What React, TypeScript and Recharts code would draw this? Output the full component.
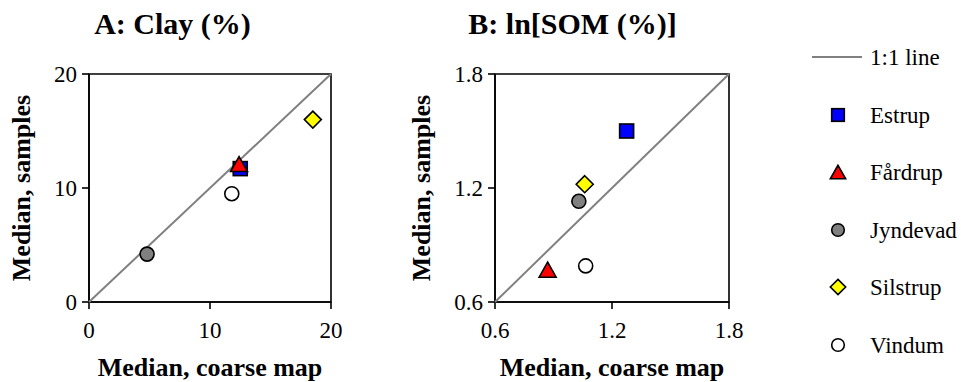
import React from 'react';
import { ScatterChart, Scatter, XAxis, YAxis, ReferenceArea, Legend } from 'recharts';

const FONT = "'Liberation Serif', 'Times New Roman', Times, serif";

// Series (sites)
const seriesNames = ['Estrup', 'Fårdrup', 'Jyndevad', 'Silstrup', 'Vindum'];
const seriesShapes = ['square', 'triangle', 'circle', 'diamond', 'circle'];
const seriesFills = ['#0000ff', '#ff0000', '#808080', '#ffff00', '#ffffff'];

// Panel A: Clay (%)
const clayX = [12.5, 12.4, 4.8, 18.5, 11.8];
const clayY = [11.7, 12.1, 4.2, 16.0, 9.5];
const clayTicks = [0, 10, 20];

// Panel B: ln[SOM (%)]
const somX = [1.275, 0.87, 1.03, 1.06, 1.065];
const somY = [1.5, 0.77, 1.13, 1.22, 0.79];
const somTicks = [0.6, 1.2, 1.8];

const lineName = '1:1 line';

type MarkerProps = { cx?: number; cy?: number; kind: string; fill: string; s?: number };

function Marker({ cx = 0, cy = 0, kind, fill, s = 1 }: MarkerProps) {
  const common = { fill, stroke: '#000', strokeWidth: 1.6 };
  if (kind === 'square') {
    const h = 7 * s;
    return <rect x={cx - h} y={cy - h} width={2 * h} height={2 * h} {...common} />;
  }
  if (kind === 'triangle') {
    const w = 8.5 * s;
    const h = 7.5 * s;
    return <polygon points={`${cx},${cy - h} ${cx - w},${cy + h} ${cx + w},${cy + h}`} {...common} strokeLinejoin="miter" />;
  }
  if (kind === 'diamond') {
    const d = 8.5 * s;
    return <polygon points={`${cx},${cy - d} ${cx + d},${cy} ${cx},${cy + d} ${cx - d},${cy}`} {...common} />;
  }
  return <circle cx={cx} cy={cy} r={7 * s} {...common} />;
}

const legendRows = [57, 115, 172, 230, 287, 345];

function renderLegend(props: any) {
  const payload: any[] = props.payload || [];
  return (
    <svg width={161} height={382} style={{ display: 'block' }}>
      {payload.map((entry: any, i: number) => {
        const y = legendRows[i] ?? 57 + i * 57.6;
        const name = entry.value;
        const idx = seriesNames.indexOf(name);
        return (
          <g key={name}>
            {idx < 0 ? (
              <line x1={12} y1={y} x2={62} y2={y} stroke="#808080" strokeWidth={2} />
            ) : (
              <Marker cx={38} cy={y} kind={seriesShapes[idx]} fill={seriesFills[idx]} s={0.9} />
            )}
            <text x={70} y={y + 7.6} fontSize={23} fontFamily={FONT} fill="#000">
              {name}
            </text>
          </g>
        );
      })}
    </svg>
  );
}

type PanelProps = {
  xs: number[];
  ys: number[];
  ticks: number[];
  width: number;
  marginRight: number;
  yAxisWidth: number;
  withLegend?: boolean;
};

function Panel({ xs, ys, ticks, width, marginRight, yAxisWidth, withLegend }: PanelProps) {
  const lo = ticks[0];
  const hi = ticks[ticks.length - 1];
  const diag = [
    { x: lo, y: lo },
    { x: hi, y: hi },
  ];
  const tickStyle = { fontSize: 23, fill: '#000', fontFamily: FONT };
  return (
    <ScatterChart width={width} height={382} margin={{ top: 74, right: marginRight, bottom: 0, left: 0 }}>
      <XAxis
        type="number"
        dataKey="x"
        domain={[lo, hi]}
        ticks={ticks}
        height={80}
        tick={tickStyle}
        tickSize={7}
        tickMargin={13}
        axisLine={{ stroke: '#000', strokeWidth: 1.6 }}
        tickLine={{ stroke: '#000', strokeWidth: 1.6 }}
        interval={0}
        label={{
          value: 'Median, coarse map',
          position: 'insideBottom',
          offset: 6,
          fontSize: 26,
          fontWeight: 'bold',
          fill: '#000',
          fontFamily: FONT,
        }}
      />
      <YAxis
        type="number"
        dataKey="y"
        domain={[lo, hi]}
        ticks={ticks}
        width={yAxisWidth}
        tick={tickStyle}
        tickSize={7}
        tickMargin={5}
        axisLine={{ stroke: '#000', strokeWidth: 1.6 }}
        tickLine={{ stroke: '#000', strokeWidth: 1.6 }}
        interval={0}
        label={{
          value: 'Median, samples',
          position: 'insideLeft',
          angle: -90,
          offset: 21,
          fontSize: 26,
          fontWeight: 'bold',
          fill: '#000',
          fontFamily: FONT,
          style: { textAnchor: 'middle' },
        }}
      />
      <ReferenceArea x1={lo} x2={hi} y1={lo} y2={hi} fill="none" stroke="#000" strokeWidth={1.6} />
      <Scatter
        name={lineName}
        data={diag}
        stroke="#808080"
        fill="#808080"
        line={{ stroke: '#808080', strokeWidth: 2 }}
        legendType="line"
        shape={() => <g />}
        isAnimationActive={false}
      />
      {seriesNames.map((name, i) => (
        <Scatter
          key={name}
          name={name}
          data={[{ x: xs[i], y: ys[i] }]}
          fill={seriesFills[i]}
          shape={(p: any) => <Marker cx={p.cx} cy={p.cy} kind={seriesShapes[i]} fill={seriesFills[i]} />}
          isAnimationActive={false}
        />
      ))}
      {withLegend && (
        <Legend
          layout="horizontal"
          verticalAlign="middle"
          align="center"
          content={renderLegend}
          wrapperStyle={{ left: 400, top: 0, width: 161, height: 382 }}
        />
      )}
    </ScatterChart>
  );
}

const titleStyle: React.CSSProperties = {
  position: 'absolute',
  top: 9,
  width: 345,
  textAlign: 'center',
  fontFamily: FONT,
  fontWeight: 'bold',
  fontSize: 30,
  lineHeight: '30px',
  color: '#000',
  whiteSpace: 'nowrap',
};

export default function App() {
  return (
    <div style={{ position: 'absolute', left: 0, top: 0, width: 961, height: 382, background: '#fff', fontFamily: FONT }}>
      <div style={{ position: 'absolute', left: 0, top: 0 }}>
        <Panel xs={clayX} ys={clayY} ticks={clayTicks} width={345} marginRight={14} yAxisWidth={89} />
      </div>
      <div style={{ position: 'absolute', left: 400, top: 0 }}>
        <Panel xs={somX} ys={somY} ticks={somTicks} width={561} marginRight={232} yAxisWidth={95} withLegend />
      </div>
      <div style={{ ...titleStyle, left: 0 }}>A: Clay (%)</div>
      <div style={{ ...titleStyle, left: 400 }}>B: ln[SOM (%)]</div>
    </div>
  );
}
